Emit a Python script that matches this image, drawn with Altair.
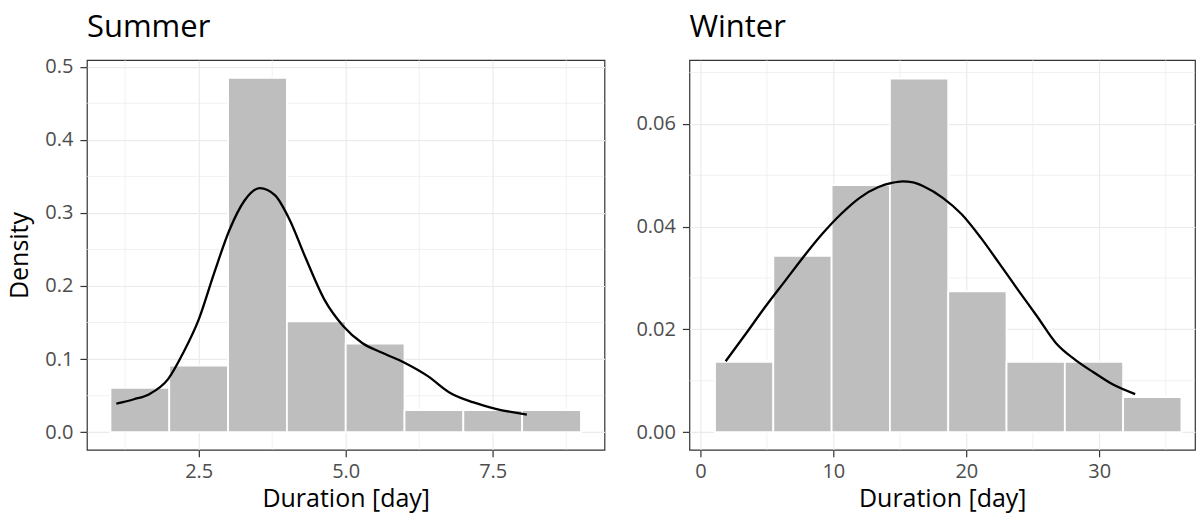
import altair as alt
import pandas as pd

# ---------------- data ----------------
summer_bin_start = [1, 2, 3, 4, 5, 6, 7, 8]
summer_bin_end = [2, 3, 4, 5, 6, 7, 8, 9]
summer_density = [0.0606, 0.0909, 0.4848, 0.1515, 0.1212, 0.0303, 0.0303, 0.0303]
summer_curve_x = [1.1, 1.4, 1.66, 1.98, 2.24, 2.5, 2.76, 3.02, 3.28, 3.54, 3.80, 4.05,
                  4.31, 4.64, 4.96, 5.28, 5.61, 6.0, 6.39, 6.77, 7.16, 7.55, 8.08]
summer_curve_y = [0.039, 0.045, 0.052, 0.0725, 0.109, 0.154, 0.217, 0.276, 0.317, 0.334,
                  0.324, 0.29, 0.24, 0.181, 0.145, 0.122, 0.109, 0.095, 0.077, 0.054,
                  0.041, 0.032, 0.024]

winter_bin_start = [1.1, 5.485, 9.87, 14.255, 18.64, 23.025, 27.41, 31.795]
winter_bin_end = [5.485, 9.87, 14.255, 18.64, 23.025, 27.41, 31.795, 36.18]
winter_density = [0.0137, 0.0343, 0.0481, 0.0688, 0.0274, 0.0137, 0.0137, 0.0068]
winter_curve_x = [1.9, 3.46, 4.88, 6.3, 7.72, 9.14, 10.56, 11.98, 13.4, 14.4, 15.2, 16.0,
                  16.81, 18.23, 19.65, 21.07, 22.49, 23.91, 25.33, 26.75, 28.17, 29.59,
                  31.0, 32.7]
winter_curve_y = [0.0138, 0.0193, 0.0244, 0.0292, 0.034, 0.0385, 0.0424, 0.0456, 0.0477,
                  0.0485, 0.0488, 0.0486, 0.0478, 0.0456, 0.0424, 0.0379, 0.0328, 0.0276,
                  0.0225, 0.0173, 0.0141, 0.0116, 0.0093, 0.0074]

summer_x_ticks = [2.5, 5.0, 7.5]
summer_y_ticks = [0.0, 0.1, 0.2, 0.3, 0.4, 0.5]
summer_minor_x = [1.25, 3.75, 6.25, 8.75]
summer_minor_y = [0.05, 0.15, 0.25, 0.35, 0.45]
winter_x_ticks = [0, 10, 20, 30]
winter_y_ticks = [0.0, 0.02, 0.04, 0.06]
winter_minor_x = [5, 15, 25, 35]
winter_minor_y = [0.01, 0.03, 0.05, 0.07]

FONT = "Open Sans"
GRID = "#ebebeb"


def panel(title, title_offset, bstart, bend, dens, cx, cy, mx, my, xdom, ydom, xticks,
          yticks, xfmt, yfmt, width, ytitle=""):
    xs = alt.Scale(domain=xdom, nice=False, zero=False)
    ys = alt.Scale(domain=ydom, nice=False, zero=False)
    xaxis = alt.Axis(values=xticks, format=xfmt, title="Duration [day]")
    yaxis = alt.Axis(values=yticks, format=yfmt, title=ytitle)
    bars_df = pd.DataFrame({"start": bstart, "end": bend, "density": dens})
    curve_df = pd.DataFrame({"x": cx, "y": cy})
    mx_df = pd.DataFrame({"v": mx})
    my_df = pd.DataFrame({"v": my})

    minor_x = alt.Chart(mx_df).mark_rule(color=GRID, strokeWidth=0.7).encode(
        x=alt.X("v:Q", scale=xs, axis=xaxis))
    minor_y = alt.Chart(my_df).mark_rule(color=GRID, strokeWidth=0.7).encode(
        y=alt.Y("v:Q", scale=ys, axis=yaxis))
    bars = alt.Chart(bars_df).mark_rect(color="#bebebe", stroke="white",
                                        strokeWidth=1.8).encode(
        x=alt.X("start:Q", scale=xs, axis=xaxis),
        x2="end:Q",
        y=alt.Y("density:Q", scale=ys, axis=yaxis),
        y2=alt.datum(0),
    )
    curve = alt.Chart(curve_df).mark_line(color="black", strokeWidth=2.3,
                                          interpolate="monotone").encode(
        x=alt.X("x:Q", scale=xs, axis=xaxis),
        y=alt.Y("y:Q", scale=ys, axis=yaxis),
    )
    return alt.layer(minor_x, minor_y, bars, curve).properties(
        width=width, height=390,
        title=alt.TitleParams(title, offset=title_offset))


left = panel("Summer", 13, summer_bin_start, summer_bin_end, summer_density,
             summer_curve_x, summer_curve_y, summer_minor_x, summer_minor_y,
             [0.6, 9.4], [-0.0242, 0.509], summer_x_ticks, summer_y_ticks,
             ".1f", ".1f", 518, ytitle="Density")
right = panel("Winter", 16, winter_bin_start, winter_bin_end, winter_density,
              winter_curve_x, winter_curve_y, winter_minor_x, winter_minor_y,
              [-0.825, 37.2], [-0.00345, 0.0724], winter_x_ticks, winter_y_ticks,
              "d", ".2f", 506)

chart = alt.hconcat(left, right, spacing=29).properties(
    padding={"left": 7, "top": 10, "right": 0, "bottom": 0}
).configure_view(
    stroke="#333333", strokeWidth=1.2
).configure_axis(
    grid=True, gridColor=GRID, gridWidth=1.2, domain=False,
    tickColor="#333333", tickSize=7, tickWidth=1.2,
    labelColor="#4d4d4d", labelFont=FONT, labelFontSize=20,
    titleFont=FONT, titleFontSize=25, titleColor="black", titleFontWeight="normal",
).configure_axisX(labelPadding=5, titlePadding=5).configure_axisY(
    labelPadding=7, titlePadding=12
).configure_title(
    font=FONT, fontSize=31, fontWeight="normal", anchor="start", frame="group",
    color="black",
)

chart.save("out.html", embed_options={"renderer": "svg", "actions": False})
